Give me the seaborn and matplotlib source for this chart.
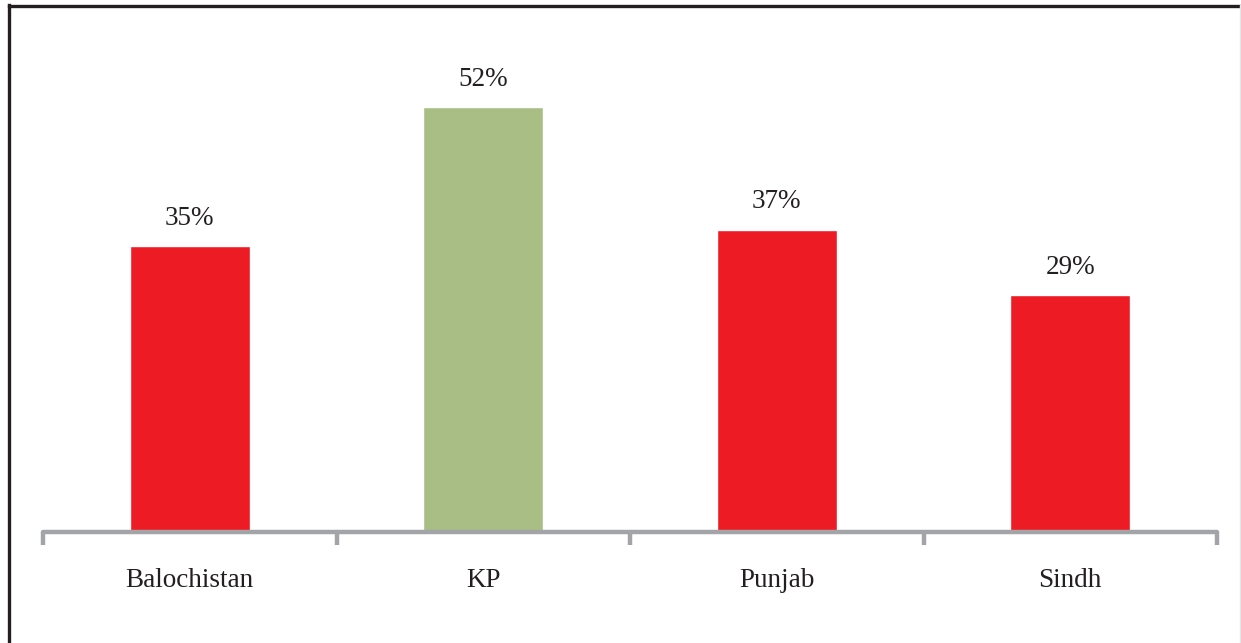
import matplotlib
matplotlib.use("Agg")
import matplotlib.pyplot as plt
from matplotlib.lines import Line2D
import seaborn as sns

# Share of each province (percent)
regions = ["Balochistan", "KP", "Punjab", "Sindh"]
shares = [35, 52, 37, 29]
bar_colors = ["#ED1C24", "#A9BE84", "#ED1C24", "#ED1C24"]

sns.set_theme(style="white")
plt.rcParams["font.family"] = ["Liberation Serif", "DejaVu Serif"]

W, H = 1241, 643
fig = plt.figure(figsize=(W / 100, H / 100), dpi=100)
fig.patch.set_facecolor("white")

# axes placed so the baseline sits low and category edges span the width
ax = fig.add_axes([43 / W, 1 - 532 / H, (1217 - 43) / W, (532 - 40) / H])

sns.barplot(x=regions, y=shares, hue=regions, palette=bar_colors,
            width=0.41, saturation=1, legend=False, ax=ax)

ax.set_xlim(-0.5, len(regions) - 0.5)
ax.set_ylim(0, 60.2)
ax.set_xlabel("")
ax.set_ylabel("")
ax.set_yticks([])

for side in ("top", "right", "left"):
    ax.spines[side].set_visible(False)
axis_grey = "#A2A4A7"
ax.spines["bottom"].set_color(axis_grey)
ax.spines["bottom"].set_linewidth(3.2)
ax.spines["bottom"].set_capstyle("round")

# category labels at centres, tick marks at category boundaries
ax.set_xticks(range(len(regions)))
ax.set_xticklabels(regions, fontsize=19.5, color="#231F20")
ax.tick_params(axis="x", which="major", bottom=False, length=0, pad=26)
ax.set_xticks([i - 0.5 for i in range(len(regions) + 1)], minor=True)
ax.tick_params(axis="x", which="minor", bottom=True, direction="out",
               length=9.5, width=3.2, color=axis_grey)

for container in ax.containers:
    ax.bar_label(container, fmt="%.0f%%", padding=11, fontsize=19.5,
                 color="#231F20")

# frame lines around the figure
fig.add_artist(Line2D([8.5 / W, 8.5 / W], [0, 1 - 5 / H], transform=fig.transFigure,
                      color="#231F20", linewidth=2.4, solid_capstyle="projecting"))
fig.add_artist(Line2D([8.5 / W, 1240 / W], [1 - 5.5 / H, 1 - 5.5 / H], transform=fig.transFigure,
                      color="#231F20", linewidth=2.4, solid_capstyle="projecting"))
fig.add_artist(Line2D([1240 / W, 1240 / W], [0, 1 - 5 / H], transform=fig.transFigure,
                      color="#E6E6E6", linewidth=1.0))

fig.savefig("out.png", dpi=100, facecolor="white")
